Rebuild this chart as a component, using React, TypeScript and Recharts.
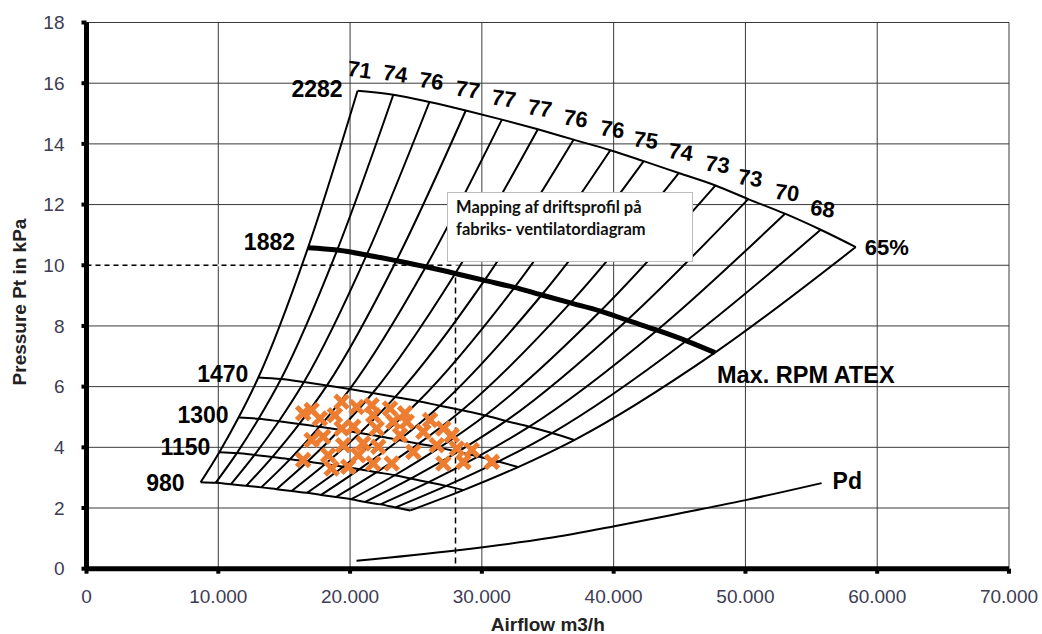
import {
  CartesianGrid,
  ComposedChart,
  LabelList,
  Line,
  ReferenceLine,
  Scatter,
  XAxis,
  YAxis,
} from "recharts";

// fan speeds (rpm) of the curves, top to bottom
const RPMS = [2282, 1882, 1470, 1300, 1150, 980];
// efficiency (%) at the top end of every system line, left to right
const EFFICIENCY = ["71", "74", "76", "77", "77", "77", "76", "76", "75", "74", "73", "73", "70", "68", "65%"];

// points of each rpm curve where it meets the 15 system lines (airflow m3/h, pressure kPa)
const Q_2282 = [20570, 23280, 26020, 28780, 31520, 34250, 36960, 39750, 42280, 44940, 47730, 50210, 53000, 55710, 58370];
const P_2282 = [15.75, 15.62, 15.38, 15.1, 14.8, 14.48, 14.14, 13.79, 13.43, 13.04, 12.63, 12.18, 11.7, 11.17, 10.6];
const Q_1882 = [16810, 19020, 21260, 23510, 25750, 27980, 30200, 32480, 34540, 36720, 39000, 41020, 43300, 45520, 47690];
const P_1882 = [10.58, 10.5, 10.34, 10.15, 9.95, 9.73, 9.5, 9.27, 9.02, 8.76, 8.49, 8.19, 7.86, 7.51, 7.12];
const Q_1470 = [13040, 14760, 16500, 18250, 19980, 21720, 23430, 25200, 26810, 28490, 30260, 31830, 33600, 35320, 37010];
const P_1470 = [6.3, 6.25, 6.15, 6.04, 5.92, 5.79, 5.66, 5.52, 5.37, 5.22, 5.05, 4.87, 4.68, 4.47, 4.24];
const Q_1300 = [11540, 13060, 14600, 16150, 17680, 19210, 20740, 22300, 23720, 25210, 26780, 28170, 29730, 31250, 32750];
const P_1300 = [4.98, 4.94, 4.86, 4.77, 4.68, 4.58, 4.47, 4.36, 4.24, 4.12, 3.99, 3.85, 3.7, 3.53, 3.35];
const Q_1150 = [10080, 11410, 12750, 14100, 15450, 16780, 18110, 19480, 20720, 22020, 23390, 24600, 25970, 27300, 28600];
const P_1150 = [3.84, 3.81, 3.75, 3.68, 3.61, 3.53, 3.45, 3.36, 3.28, 3.18, 3.08, 2.97, 2.85, 2.73, 2.59];
const Q_980 = [8660, 9800, 10950, 12120, 13270, 14420, 15560, 16740, 17800, 18920, 20090, 21140, 22310, 23450, 24570];
const P_980 = [2.85, 2.83, 2.78, 2.73, 2.68, 2.62, 2.56, 2.5, 2.43, 2.36, 2.29, 2.2, 2.12, 2.02, 1.92];

// measured operating points (driftsprofil)
const OP_Q = [16440, 17080, 17710, 18850, 19360, 20500, 21640, 21760, 23030, 24170, 24300, 23280, 26070, 27080, 27720,
  19360, 20240, 22020, 23790, 25560, 17080, 17960, 19480, 21000, 22140, 24800, 26580, 28100, 29240,
  16440, 18340, 18600, 19860, 21760, 23160, 27080, 28600, 30760, 20620];
const OP_P = [5.12, 5.23, 4.95, 5.06, 5.5, 5.33, 5.39, 5.06, 5.28, 5.12, 4.84, 4.84, 4.9, 4.62, 4.4,
  4.62, 4.68, 4.62, 4.4, 4.51, 4.24, 4.35, 4.07, 4.13, 4.02, 3.85, 4.07, 3.96, 3.91,
  3.58, 3.74, 3.3, 3.36, 3.47, 3.47, 3.47, 3.52, 3.52, 3.74];

// dynamic pressure curve
const PD_Q = [20490, 28010, 34950, 40050, 45430, 50010, 55780];
const PD_P = [0.26, 0.6, 1.0, 1.4, 1.86, 2.26, 2.82];

// design point
const DESIGN_Q = 28000;
const DESIGN_P = 10;
const DESIGN_P_CURVE = 9.6;

const X_TICKS = [0, 10000, 20000, 30000, 40000, 50000, 60000, 70000];
const Y_TICKS = [0, 2, 4, 6, 8, 10, 12, 14, 16, 18];

const CURVE_Q = [Q_2282, Q_1882, Q_1470, Q_1300, Q_1150, Q_980];
const CURVE_P = [P_2282, P_1882, P_1470, P_1300, P_1150, P_980];

const FONT = "'Liberation Sans', Arial, sans-serif";
const TICK_COLOR = "#3c3c55";
const RPM_LABEL_OFFSET: Record<number, [number, number]> = {
  2282: [-15, -2],
  1882: [-13, -6],
  1470: [-10, -4],
  1300: [-10, -3],
  1150: [-9, -5],
  980: [-16, 1],
};

const rpmCurves = RPMS.map((rpm, k) => ({
  rpm,
  points: CURVE_Q[k].map((q, i) => ({ q, p: CURVE_P[k][i], rpm, eff: EFFICIENCY[i] })),
}));

// system lines: same column of every rpm curve, from 980 up to 2282
const systemLines = EFFICIENCY.map((_, i) =>
  RPMS.map((_, k) => ({ q: CURVE_Q[k][i], p: CURVE_P[k][i] })).reverse(),
);

const opPoints = OP_Q.map((q, i) => ({ q, p: OP_P[i] }));
const pdPoints = PD_Q.map((q, i) => ({ q, p: PD_P[i] }));

function fmtThousands(v: number): string {
  return String(v).replace(/\B(?=(\d{3})+(?!\d))/g, ".");
}

function Cross(props: any) {
  const { cx, cy } = props;
  if (cx == null || cy == null) return null;
  const s = 6.5;
  return (
    <g stroke="#ed7d31" strokeWidth={5}>
      <line x1={cx - s} y1={cy - s} x2={cx + s} y2={cy + s} />
      <line x1={cx - s} y1={cy + s} x2={cx + s} y2={cy - s} />
    </g>
  );
}

function EffLabel(props: any) {
  const { x, y, value, index } = props;
  if (x == null || y == null) return null;
  if (index === EFFICIENCY.length - 1) {
    return (
      <text x={x + 9} y={y} dominantBaseline="central" fontFamily={FONT} fontWeight="bold" fontSize={22} fill="#000">
        {value}
      </text>
    );
  }
  const lx = x + 2;
  const ly = y - 21;
  return (
    <text
      x={lx}
      y={ly}
      textAnchor="middle"
      dominantBaseline="central"
      transform={`rotate(8 ${lx} ${ly})`}
      fontFamily={FONT}
      fontWeight="bold"
      fontSize={22}
      fill="#000"
    >
      {value}
    </text>
  );
}

function RpmLabel(props: any) {
  const { x, y, value, index } = props;
  if (index !== 0 || x == null) return null;
  const [dx, dy] = RPM_LABEL_OFFSET[value] ?? [-12, -3];
  return (
    <text x={x + dx} y={y + dy} textAnchor="end" dominantBaseline="central" fontFamily={FONT} fontWeight="bold" fontSize={23} fill="#000">
      {value}
    </text>
  );
}

function MaxRpmLabel(props: any) {
  const { x, y, index } = props;
  if (index !== EFFICIENCY.length - 1 || x == null) return null;
  return (
    <text x={x + 2} y={y + 22} dominantBaseline="central" fontFamily={FONT} fontWeight="bold" fontSize={23.5} fill="#000">
      Max. RPM ATEX
    </text>
  );
}

function PdLabel(props: any) {
  const { x, y, index } = props;
  if (index !== PD_Q.length - 1 || x == null) return null;
  return (
    <text x={x + 11} y={y - 2} dominantBaseline="central" fontFamily={FONT} fontWeight="bold" fontSize={23} fill="#000">
      Pd
    </text>
  );
}

export default function App() {
  return (
    <div style={{ position: "fixed", left: 0, top: 0, width: 1042, height: 634, background: "#fff" }}>
      <ComposedChart width={1042} height={634} margin={{ top: 22.5, right: 33, left: 0.5, bottom: 25.3 }}>
        <CartesianGrid stroke="#3a3a3a" strokeWidth={1} />
        <XAxis
          type="number"
          dataKey="q"
          domain={[0, 70000]}
          ticks={X_TICKS}
          tickFormatter={fmtThousands}
          allowDataOverflow
          height={40}
          axisLine={{ stroke: "#000", strokeWidth: 5 }}
          tickLine={{ stroke: "#000", strokeWidth: 4 }}
          tickSize={5}
          tickMargin={16}
          tick={{ fill: TICK_COLOR, fontSize: 19, fontFamily: FONT }}
          label={{
            content: (p: any) => (
              <text
                x={p.viewBox.x + p.viewBox.width / 2}
                y={631}
                textAnchor="middle"
                fontFamily={FONT}
                fontWeight="bold"
                fontSize={19}
                fill="#222"
              >
                Airflow m3/h
              </text>
            ),
          }}
        />
        <YAxis
          type="number"
          dataKey="p"
          domain={[0, 18]}
          ticks={Y_TICKS}
          allowDataOverflow
          width={86}
          axisLine={{ stroke: "#000", strokeWidth: 5 }}
          tickLine={{ stroke: "#000", strokeWidth: 4 }}
          tickSize={5}
          tickMargin={17}
          tick={{ fill: TICK_COLOR, fontSize: 19, fontFamily: FONT }}
          label={{
            content: () => (
              <text
                x={19}
                y={302}
                textAnchor="middle"
                dominantBaseline="central"
                transform="rotate(-90 19 302)"
                fontFamily={FONT}
                fontWeight="bold"
                fontSize={19}
                fill="#222"
              >
                Pressure Pt in kPa
              </text>
            ),
          }}
        />

        <ReferenceLine segment={[{ x: 0, y: DESIGN_P }, { x: DESIGN_Q, y: DESIGN_P }]} stroke="#fff" strokeWidth={2} />
        <ReferenceLine
          segment={[{ x: 0, y: DESIGN_P }, { x: DESIGN_Q, y: DESIGN_P }]}
          stroke="#000"
          strokeWidth={1.5}
          strokeDasharray="5 4"
        />
        <ReferenceLine
          segment={[{ x: DESIGN_Q, y: DESIGN_P_CURVE }, { x: DESIGN_Q, y: 0 }]}
          stroke="#000"
          strokeWidth={1.5}
          strokeDasharray="6 4"
        />

        {systemLines.map((pts, i) => (
          <Line
            key={`sys-${i}`}
            data={pts}
            dataKey="p"
            type="monotone"
            stroke="#000"
            strokeWidth={2}
            dot={false}
            activeDot={false}
            isAnimationActive={false}
          />
        ))}

        {rpmCurves.map((c) => (
          <Line
            key={`rpm-${c.rpm}`}
            data={c.points}
            dataKey="p"
            type="monotone"
            stroke="#000"
            strokeWidth={c.rpm === 1882 ? 5 : 2}
            dot={false}
            activeDot={false}
            isAnimationActive={false}
          >
            <LabelList dataKey="rpm" content={RpmLabel} />
            {c.rpm === 2282 ? <LabelList dataKey="eff" content={EffLabel} /> : null}
            {c.rpm === 1882 ? <LabelList dataKey="rpm" content={MaxRpmLabel} /> : null}
          </Line>
        ))}

        <Line
          data={pdPoints}
          dataKey="p"
          type="monotone"
          stroke="#000"
          strokeWidth={2}
          dot={false}
          activeDot={false}
          isAnimationActive={false}
        >
          <LabelList dataKey="p" content={PdLabel} />
        </Line>

        <Scatter data={opPoints} dataKey="p" shape={Cross} isAnimationActive={false} />
      </ComposedChart>

      <div
        style={{
          position: "absolute",
          left: 447,
          top: 192,
          width: 246,
          height: 70,
          boxSizing: "border-box",
          border: "1px solid #bdbdbd",
          background: "#fff",
          padding: "3px 0 0 8px",
          fontFamily: "Lato, 'Open Sans', sans-serif",
          fontWeight: 700,
          fontSize: 16.5,
          lineHeight: "22px",
          color: "#111",
        }}
      >
        Mapping af driftsprofil på
        <br />
        fabriks- ventilatordiagram
      </div>
    </div>
  );
}
